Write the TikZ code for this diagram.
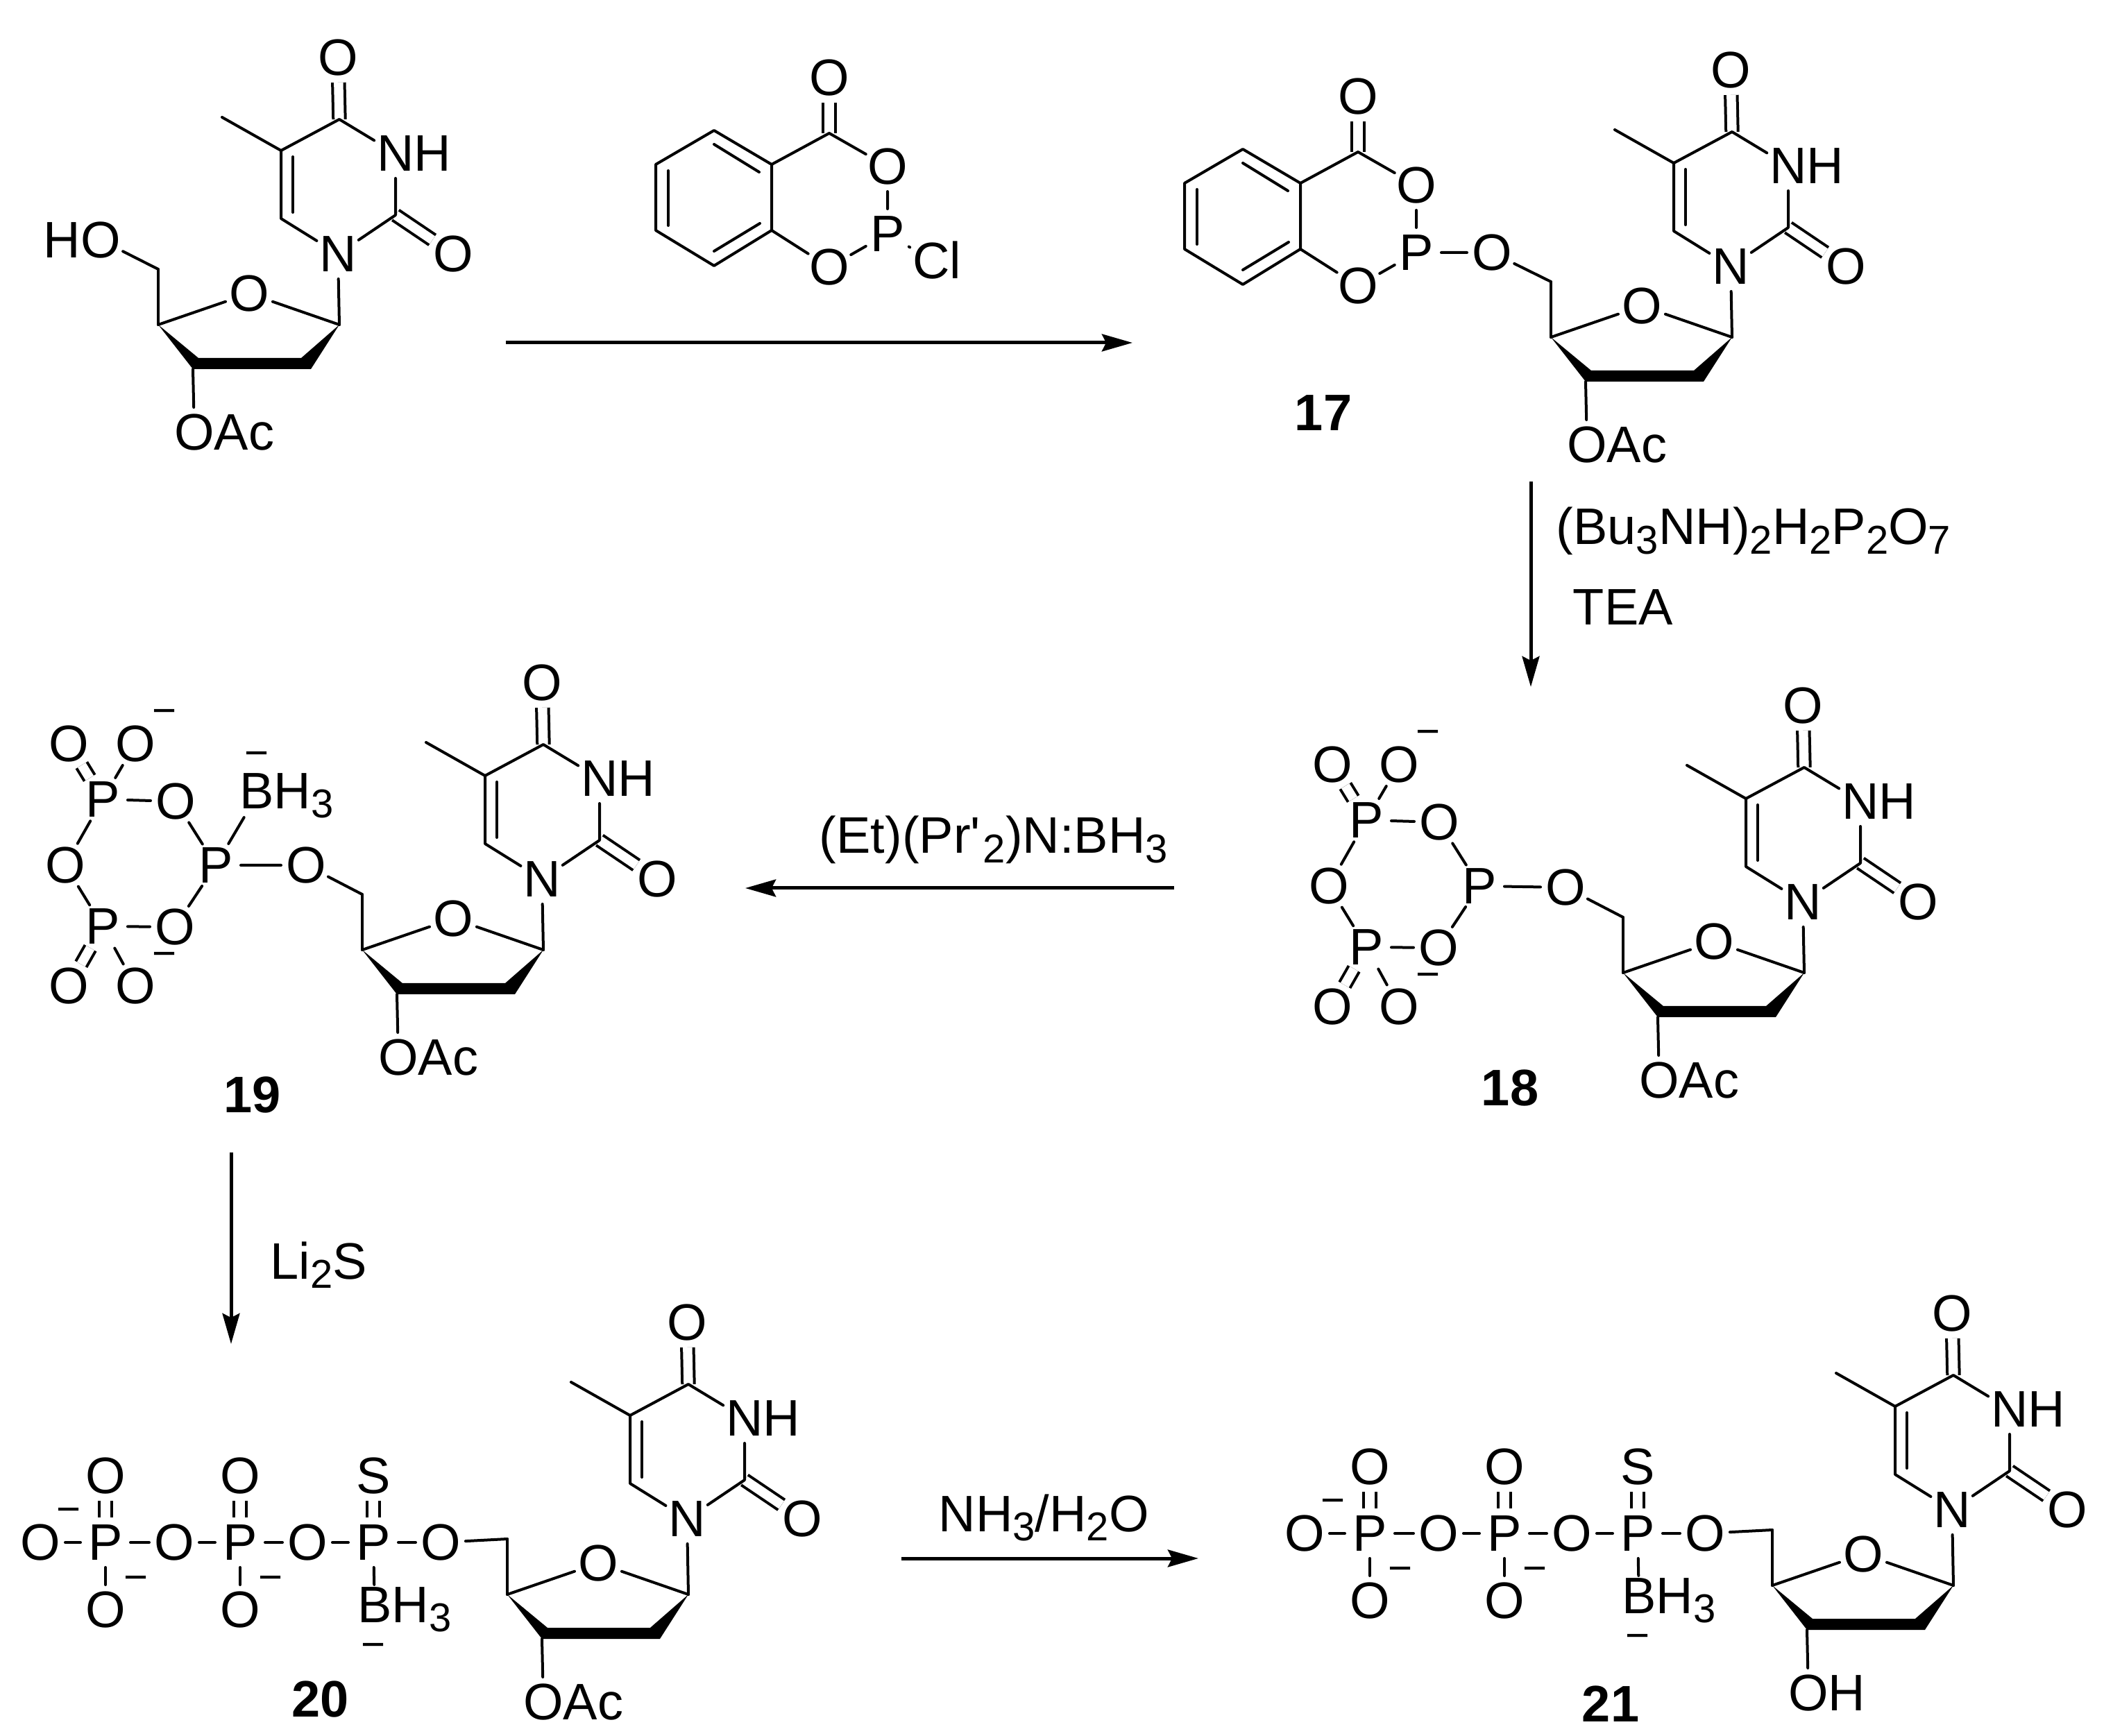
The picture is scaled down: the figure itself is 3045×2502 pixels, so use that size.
\documentclass[tikz,border=0pt]{standalone}
\usepackage{fontspec}
\setmainfont{Liberation Sans}
\usetikzlibrary{arrows.meta,positioning}
\newcommand{\sbs}[1]{\raisebox{-.18em}{\fontsize{14.5}{14.5}\selectfont #1}}
\tikzset{
    %Define standard arrow tip
    >={Stealth[length=11pt,width=6.2pt,inset=1.5pt]},
    %Define style for atoms
    atom/.style={
           circle,
           inner sep=-.8pt,
           outer sep=0pt,
           minimum size=18pt,
           font=\fontsize{18.5}{18.5}\selectfont},
    charge/.style={
           inner sep=0pt,
           yshift=-1.75pt,
           font=\fontsize{15}{15}\selectfont},
    reagent/.style={
           inner sep=0pt,
           anchor=base west,
           font=\fontsize{18.5}{18.5}\selectfont},
    cmpd/.style={
           inner sep=0pt,
           font=\fontsize{18.5}{18.5}\selectfont\bfseries},
    % Define bond and arrow styles
    bond/.style={line width=1pt,line cap=round,line join=round},
    dbl/.style={line width=1pt,line cap=butt,double,double distance=3.35pt},
    rxn/.style={->,line width=1.25pt},
    % Thymine ring with its sugar, origin at N1
    pics/nuc/.style 2 args={code={
        \node[atom] (-N1) at (0,0) {N};
        \node[atom] (-O4) at (0,-283) {O};
        \node[atom] (-N3) at (83,-145) {N\rlap{H}};
        \node[atom] (-O2) at (166,0) {O};
        \coordinate (-C4) at (2,-194);
        \coordinate (-C2) at (83,-56);
        \coordinate (-C5) at (-82,-149);
        \coordinate (-C6) at (-82,-51);
        \coordinate (-Me) at (-167,-197);
        \coordinate (-i1) at (-65,-140);
        \coordinate (-i2) at (-65,-60);
        \draw[dbl] (-O4) -- (-C4);
        \draw[dbl] (-O2) -- (-C2);
        \draw[bond] (-N1) -- (-C6) -- (-C5) -- (-C4) -- (-N3) -- (-C2) -- (-N1);
        \path[bond] (-C5) edge (-Me) (-i1) edge (-i2);
        \begin{scope}[shift={(0,#2)}]
        \node[atom] (-Os) at (-128,57) {O};
        \node[atom] (-O3) at (-207,257) {#1};
        \coordinate (-C1p) at (2,102);
        \coordinate (-C4p) at (-259,102);
        \coordinate (-C5p) at (-259,22);
        \coordinate (-C3p) at (-209,166);
        \coordinate (-w1) at (-201,150);
        \coordinate (-w2) at (-53,150);
        \coordinate (-w3) at (-39,166);
        \fill (-C4p) -- (-w1) -- (-w2) -- (-C1p) -- (-w3) -- (-C3p) -- cycle;
        \path[bond] (-C4p) edge (-Os) edge (-C5p) (-C1p) edge (-Os) (-C3p) edge (-O3);
        \draw[bond] (-C1p) -- (-N1);
        \end{scope}
    }},
    % Benzodioxaphosphorinone, origin at P
    pics/salicyl/.style={code={
        \node[atom] (-P) at (0,0) {P};
        \node[atom] (-Oc) at (-84,-225) {O};
        \node[atom] (-Ou) at (0,-97) {O};
        \node[atom] (-Ol) at (-84,48) {O};
        \coordinate (-Cc) at (-84,-145);
        \coordinate (-a) at (-167,-100);
        \coordinate (-b) at (-250,-149);
        \coordinate (-c) at (-334,-100);
        \coordinate (-d) at (-334,-5);
        \coordinate (-e) at (-250,46);
        \coordinate (-f) at (-167,-5);
        \coordinate (-i1) at (-185,-89);
        \coordinate (-i2) at (-250,-129);
        \coordinate (-i3) at (-316,-91);
        \coordinate (-i4) at (-316,-12);
        \coordinate (-i5) at (-250,25);
        \coordinate (-i6) at (-184,-15);
        \draw[dbl] (-Oc) -- (-Cc);
        \draw[bond] (-a) -- (-b) -- (-c) -- (-d) -- (-e) -- (-f) -- (-a) -- (-Cc) -- (-Ou) -- (-P) -- (-Ol) -- (-f);
        \path[bond] (-i1) edge (-i2) (-i3) edge (-i4) (-i5) edge (-i6);
    }},
    % Cyclic triphosphate, origin at the middle P
    pics/cyclo/.style={code={
        \node[atom] (-P) at (0,0) {P};
        \node[atom] (-Pa) at (-163,-95) {P};
        \node[atom] (-Oa) at (-58,-92) {O};
        \node[atom] (-Ob) at (-212,-175) {O};
        \node[atom] (-Oc) at (-116,-175) {O};
        \node[atom] (-Od) at (-217,0) {O};
        \node[atom] (-Pb) at (-163,88) {P};
        \node[atom] (-Oe) at (-59,89) {O};
        \node[atom] (-Of) at (-212,174) {O};
        \node[atom] (-Og) at (-116,174) {O};
        \node[charge] (-m1) at (-74,-221) {−};
        \node[charge] (-m2) at (-74,129) {−};
        \draw[dbl] (-Pa) -- (-Ob);
        \draw[dbl] (-Pb) -- (-Of);
        \path[bond] (-Pa) edge (-Oc) edge (-Oa) edge (-Od)
              (-P) edge (-Oa) edge (-Oe)
              (-Pb) edge (-Od) edge (-Oe) edge (-Og);
    }},
    % Open triphosphate chain, origin at the first O
    pics/chain/.style={code={
        \node[atom] (-O0) at (0,0) {O};
        \node[atom] (-P1) at (94,0) {P};
        \node[atom] (-O1) at (193,0) {O};
        \node[atom] (-P2) at (288,0) {P};
        \node[atom] (-O2) at (385,0) {O};
        \node[atom] (-P3) at (480,0) {P};
        \node[atom] (-O3) at (577,0) {O};
        \node[atom] (-Ta) at (94,-96) {O};
        \node[atom] (-Tb) at (288,-96) {O};
        \node[atom] (-Tc) at (480,-96) {S};
        \node[atom] (-Ba) at (94,97) {O};
        \node[atom] (-Bb) at (288,97) {O};
        \node[atom] (-Bc) at (482,97) {B\rlap{H\sbs{3}}};
        \node[charge] (-m1) at (41,-46) {−};
        \node[charge] (-m2) at (138,52) {−};
        \node[charge] (-m3) at (332,52) {−};
        \node[charge] (-m4) at (480,149) {−};
        \draw[dbl] (-P1) -- (-Ta);
        \draw[dbl] (-P2) -- (-Tb);
        \draw[dbl] (-P3) -- (-Tc);
        \path[bond] (-O0) edge (-P1) (-P1) edge (-O1) edge (-Ba)
              (-O1) edge (-P2) (-P2) edge (-O2) edge (-Bb)
              (-O2) edge (-P3) (-P3) edge (-O3) edge (-Bc);
    }}
}
\begin{document}
\begin{tikzpicture}[x=.25pt,y=-.25pt]
\useasboundingbox (0,0) rectangle (3045,2502);
% starting nucleoside
\pic (a) at (487,366) {nuc={O\rlap{Ac}}{0}};
\node[atom] (aO) at (145,346) {\llap{H}O};
\draw[bond] (aO) -- (a-C5p);
% phosphorochloridite
\pic (r) at (1279,337) {salicyl};
\node[atom] (rCl) at (1342,375) {C\rlap{l}};
\draw[bond] (r-P) -- (rCl);
% 17
\pic (b) at (2494,384) {nuc={O\rlap{Ac}}{0}};
\pic (bs) at (2041,364) {salicyl};
\node[atom] (bO) at (2150,364) {O};
\draw[bond] (bs-P) -- (bO) -- (b-C5p);
\node[cmpd] (l17) at (1907,595) {17};
% 18
\pic (c) at (2598,1300) {nuc={O\rlap{Ac}}{0}};
\pic (cc) at (2132,1277) {cyclo};
\node[atom] (cO) at (2256,1279) {O};
\draw[bond] (cc-P) -- (cO) -- (c-C5p);
\node[cmpd] (l18) at (2176,1568) {18};
% 19
\pic (d) at (781,1267) {nuc={O\rlap{Ac}}{0}};
\pic (dc) at (311,1247) {cyclo};
\node[atom] (dO) at (441,1247) {O};
\node[atom] (dB) at (370,1147) {B\rlap{H\sbs{3}}};
\node[charge] (dm) at (370,1087) {−};
\draw[bond] (dc-P) -- (dO) -- (d-C5p);
\draw[bond] (dc-P) -- (dB);
\node[cmpd] (l19) at (364,1578) {19};
% 20
\pic (e) at (990,2189) {nuc={O\rlap{Ac}}{7}};
\pic (ec) at (58,2223) {chain};
\draw[bond] (ec-O3) -- (e-C5p);
\node[cmpd] (l20) at (462,2449) {20};
% 21
\pic (f) at (2813,2176) {nuc={O\rlap{H}}{7}};
\pic (fc) at (1880,2210) {chain};
\draw[bond] (fc-O3) -- (f-C5p);
\node[cmpd] (l21) at (2321,2456) {21};
% reaction arrows and conditions
\coordinate (s1) at (729,494);
\coordinate (t1) at (1632,494);
\coordinate (s2) at (2206,694);
\coordinate (t2) at (2206,990);
\coordinate (s3) at (1692,1280);
\coordinate (t3) at (1074,1280);
\coordinate (s4) at (333,1661);
\coordinate (t4) at (333,1937);
\coordinate (s5) at (1299,2246);
\coordinate (t5) at (1727,2246);
\draw[rxn] (s1) -- (t1);
\draw[rxn] (s2) -- (t2);
\draw[rxn] (s3) -- (t3);
\draw[rxn] (s4) -- (t4);
\draw[rxn] (s5) -- (t5);
\node[reagent] (q1) at (2242,785) {(Bu\sbs{3}NH)\sbs{2}H\sbs{2}P\sbs{2}O\sbs{7}};
\node[reagent] (q2) at (2266,901) {TEA};
\node[reagent] (q3) at (1180,1230) {(Et)(Pr\textquotesingle\kern1pt\sbs{2})N:BH\sbs{3}};
\node[reagent] (q4) at (389,1843) {Li\sbs{2}S};
\node[reagent] (q5) at (1352,2207) {NH\sbs{3}/H\sbs{2}O};
\end{tikzpicture}
\end{document}
